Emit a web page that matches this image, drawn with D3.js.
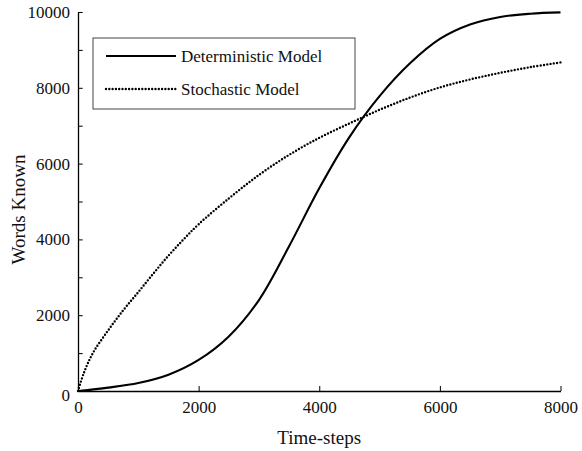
<!DOCTYPE html>
<html>
<head>
<meta charset="utf-8">
<script src="https://cdn.jsdelivr.net/npm/d3@7"></script>
<style>
  body { margin: 0; background: #fff; }
  svg { display: block; }
  svg text { font-family: "Liberation Serif", "Times New Roman", serif; }
</style>
</head>
<body>
<svg id="chart" width="582" height="451"></svg>
<script>
// Vocabulary growth over time for the two models
const detSteps = [0, 500, 1000, 1500, 2000, 2500, 3000, 3500, 4000, 4500, 5000, 5500, 6000, 6500, 7000, 7500, 8000];
const detWords = [0, 90, 210, 430, 820, 1440, 2400, 3820, 5350, 6700, 7780, 8640, 9290, 9670, 9870, 9955, 9990];

const stoSteps = [0, 100, 250, 500, 750, 1000, 1250, 1500, 1750, 2000, 2500, 3000, 3500, 4000, 4500, 5000, 5500, 6000, 6500, 7000, 7500, 8000];
const stoWords = [0, 490, 1010, 1600, 2130, 2610, 3100, 3570, 4000, 4400, 5080, 5700, 6230, 6680, 7060, 7420, 7740, 8010, 8220, 8395, 8545, 8670];

const xTicks = [0, 2000, 4000, 6000, 8000];
const yTicks = [0, 2000, 4000, 6000, 8000, 10000];
const yMinorTicks = [1000, 3000, 5000, 7000, 9000];

const seriesNames = ["Deterministic Model", "Stochastic Model"];

const svg = d3.select("#chart");
const x = d3.scaleLinear().domain([0, 8000]).range([78, 560.5]);
const y = d3.scaleLinear().domain([0, 10000]).range([391, 12]);

const styles = [
  { width: 2.1, dash: null, cap: "butt" },
  { width: 2.4, dash: "0 3.3", cap: "round" }
];

// Axes with inward ticks
const yAxis = svg.append("g").attr("transform", `translate(${x(0)},0)`)
  .call(d3.axisLeft(y).tickValues(yTicks).tickSizeInner(-4.7).tickSizeOuter(0).tickPadding(8).tickFormat(d3.format("d")));
svg.append("g").attr("transform", `translate(${x(0)},0)`)
  .call(d3.axisLeft(y).tickValues(yMinorTicks).tickSizeInner(-4.7).tickSizeOuter(0).tickFormat(""))
  .select(".domain").remove();
const xAxis = svg.append("g").attr("transform", `translate(0,${y(0)})`)
  .call(d3.axisBottom(x).tickValues(xTicks).tickSizeInner(-5).tickSizeOuter(0).tickPadding(10).tickFormat(d3.format("d")));

svg.selectAll("g").attr("font-family", null);
svg.selectAll(".domain").attr("stroke", "#000").attr("stroke-width", 1.3);
svg.selectAll(".tick line").attr("stroke", "#000").attr("stroke-width", 1);
svg.selectAll(".tick text").attr("font-size", 17).attr("fill", "#111");
yAxis.selectAll(".tick text").filter(d => d === 0).attr("dy", "0.55em");

// Axis titles
svg.append("text").attr("x", x(4000)).attr("y", 444).attr("text-anchor", "middle")
  .attr("font-size", 19).attr("fill", "#111").text("Time-steps");
svg.append("text").attr("transform", `translate(25,${y(5000) + 8}) rotate(-90)`).attr("text-anchor", "middle")
  .attr("font-size", 19).attr("fill", "#111").text("Words Known");

// Curves
const line = d3.line().x(d => x(d[0])).y(d => y(d[1])).curve(d3.curveCatmullRom.alpha(0.5));
const series = [
  d3.zip(detSteps, detWords),
  d3.zip(stoSteps, stoWords)
];
series.forEach((pts, i) => {
  svg.append("path").datum(pts).attr("d", line)
    .attr("fill", "none").attr("stroke", "#000")
    .attr("stroke-width", styles[i].width)
    .attr("stroke-dasharray", styles[i].dash)
    .attr("stroke-linecap", styles[i].cap);
});

// Legend
const legend = svg.append("g");
legend.append("rect").attr("x", 93).attr("y", 38).attr("width", 262).attr("height", 71)
  .attr("fill", "#fff").attr("stroke", "#444").attr("stroke-width", 1);
seriesNames.forEach((name, i) => {
  const ly = 56 + i * 33;
  legend.append("line").attr("x1", 106).attr("x2", 176).attr("y1", ly).attr("y2", ly)
    .attr("stroke", "#000").attr("stroke-width", styles[i].width)
    .attr("stroke-dasharray", styles[i].dash).attr("stroke-linecap", styles[i].cap);
  legend.append("text").attr("x", 181).attr("y", ly + 6).attr("font-size", 17)
    .attr("fill", "#111").text(name);
});
</script>
</body>
</html>
